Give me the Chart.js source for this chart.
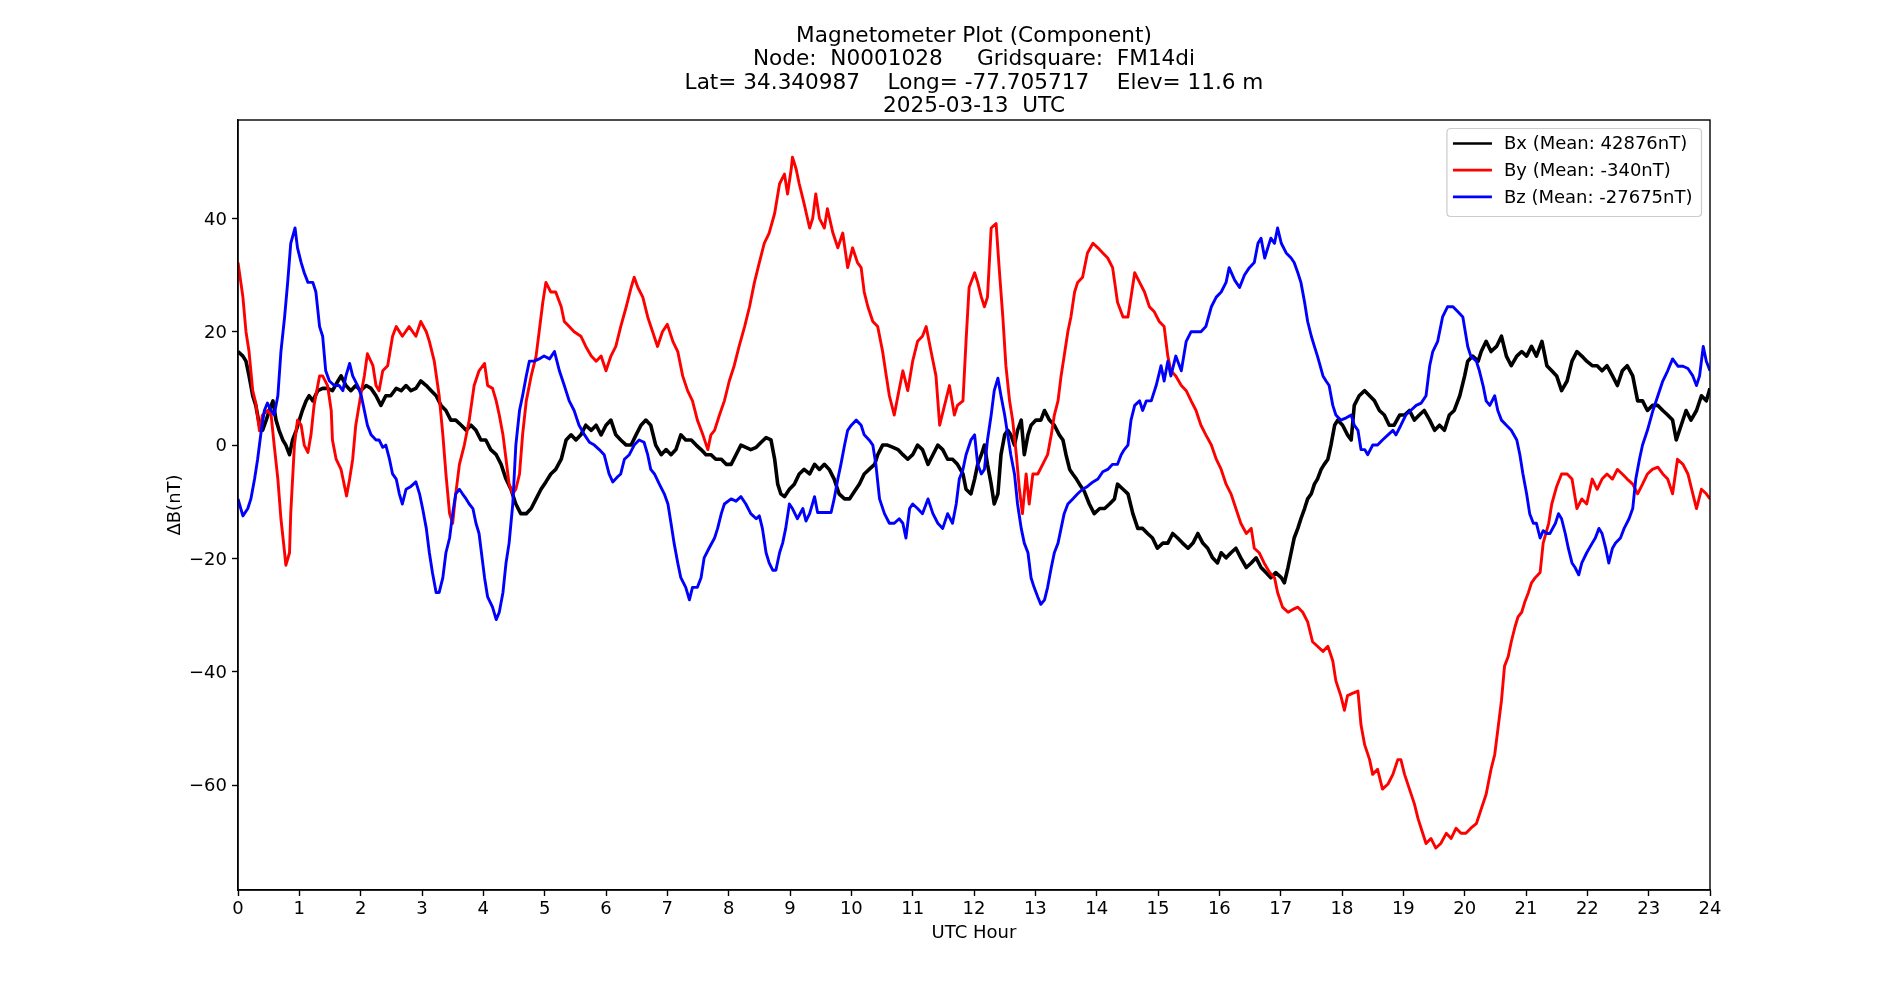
<!DOCTYPE html>
<html>
<head>
<meta charset="utf-8">
<title>Magnetometer Plot (Component)</title>
<script src="https://cdn.jsdelivr.net/npm/chart.js@4.4.1/dist/chart.umd.min.js"></script>
<style>
  html, body { margin: 0; padding: 0; background: #ffffff; }
  canvas { display: block; }
</style>
</head>
<body>
<canvas id="magChart" width="1900" height="1000"></canvas>
<script>
// text
var titleLines = [
  'Magnetometer Plot (Component)',
  'Node:  N0001028     Gridsquare:  FM14di',
  'Lat= 34.340987    Long= -77.705717    Elev= 11.6 m',
  '2025-03-13  UTC'
];
var seriesLabels = ['Bx (Mean: 42876nT)', 'By (Mean: -340nT)', 'Bz (Mean: -27675nT)'];
var seriesColors = ['#000000', '#ff0000', '#0000ff'];
var xTicks = [0, 1, 2, 3, 4, 5, 6, 7, 8, 9, 10, 11, 12, 13, 14, 15, 16, 17, 18, 19, 20, 21, 22, 23, 24];
var yTicks = [-60, -40, -20, 0, 20, 40];

// Bx, hours and deltas (nT)
var bxHour = [
  0, 0.08, 0.13, 0.18, 0.24, 0.29, 0.35, 0.40, 0.46, 0.51, 0.57, 0.62, 0.67, 0.73, 0.78, 0.84, 0.89, 0.95, 1.0, 1.05,
  1.11, 1.16, 1.22, 1.3, 1.38, 1.46, 1.54, 1.63, 1.68, 1.76, 1.84, 1.92, 2.0, 2.09, 2.17, 2.25, 2.33, 2.41, 2.49, 2.58,
  2.66, 2.74, 2.82, 2.9, 2.98, 3.07, 3.15, 3.23, 3.31, 3.39, 3.47, 3.55, 3.64, 3.72, 3.8, 3.88, 3.96,
  4.04, 4.12, 4.21, 4.29, 4.37, 4.45, 4.53, 4.61, 4.7, 4.78, 4.86, 4.94, 5.02, 5.1, 5.18, 5.27, 5.35, 5.43, 5.51, 5.59,
  5.67, 5.76, 5.84, 5.92, 6.0, 6.08, 6.16, 6.24, 6.33, 6.41, 6.49, 6.57, 6.65, 6.73, 6.81, 6.9, 6.98, 7.06, 7.14, 7.22,
  7.3, 7.39, 7.47, 7.55, 7.63, 7.71, 7.79, 7.88, 7.96,
  8.04, 8.12, 8.2, 8.28, 8.36, 8.45, 8.53, 8.61, 8.69, 8.75, 8.8, 8.85, 8.91, 8.99, 9.07, 9.15, 9.23, 9.32, 9.4, 9.48,
  9.56, 9.64, 9.72, 9.8, 9.89, 9.97, 10.05, 10.13, 10.21, 10.29, 10.38, 10.43, 10.51, 10.59, 10.68, 10.76, 10.84, 10.92, 11.0, 11.08,
  11.16, 11.25, 11.33, 11.41, 11.49, 11.57, 11.65, 11.73, 11.82, 11.87, 11.95,
  12.01, 12.06, 12.12, 12.17, 12.22, 12.28, 12.33, 12.39, 12.44, 12.5, 12.55, 12.6, 12.66, 12.71, 12.77, 12.82, 12.88, 12.93, 13.01, 13.09,
  13.15, 13.23, 13.31, 13.39, 13.45, 13.5, 13.56, 13.61, 13.67, 13.72, 13.8, 13.88, 13.96, 14.05, 14.13, 14.21, 14.29, 14.34, 14.43, 14.51,
  14.59, 14.67, 14.75, 14.83, 14.91, 14.99, 15.08, 15.16, 15.24, 15.32, 15.4, 15.49, 15.57, 15.65, 15.73, 15.81, 15.89, 15.97,
  16.03, 16.11, 16.19, 16.27, 16.35, 16.44, 16.52, 16.6, 16.68, 16.76, 16.84, 16.92, 17.01, 17.06, 17.12, 17.17, 17.22, 17.28, 17.33, 17.39,
  17.44, 17.5, 17.55, 17.6, 17.66, 17.71, 17.77, 17.82, 17.88, 17.93, 18.01, 18.09, 18.15, 18.2, 18.28, 18.37, 18.45, 18.53, 18.61, 18.69,
  18.77, 18.85, 18.94, 19.02, 19.1, 19.18, 19.26, 19.34, 19.43, 19.51, 19.59, 19.67, 19.75, 19.83, 19.92,
  20.0, 20.05, 20.13, 20.22, 20.27, 20.35, 20.43, 20.52, 20.6, 20.68, 20.76, 20.85, 20.93, 21.01, 21.09, 21.17, 21.26, 21.34, 21.42, 21.5,
  21.58, 21.67, 21.75, 21.83, 21.91, 21.99, 22.08, 22.16, 22.24, 22.32, 22.41, 22.49, 22.57, 22.65, 22.74, 22.82, 22.9, 22.98, 23.06, 23.15,
  23.23, 23.31, 23.39, 23.45, 23.53, 23.61, 23.69, 23.78, 23.86, 23.94, 24.0
];
var bxVal = [
  16.5, 15.7, 14.8, 12.2, 8.7, 7, 3.5, 2.6, 4.4, 6.1, 7.8, 4.4, 2.6, 0.9, 0, -1.7, 0.9, 2.6, 4.4, 6.1,
  7.8, 8.7, 7.8, 9.6, 10, 10, 9.6, 11.3, 12.2, 10.5, 9.6, 10.5, 9.6, 10.5, 10, 8.7, 7, 8.7, 8.7, 10,
  9.6, 10.5, 9.6, 10, 11.3, 10.5, 9.6, 8.7, 7, 6.1, 4.4, 4.4, 3.5, 2.6, 3.5, 2.6, 0.9,
  0.9, -0.8, -1.7, -3.4, -6, -7.8, -10.4, -12.1, -12.1, -11.2, -9.5, -7.8, -6.5, -5.1, -4.3, -2.5, 0.9, 1.8, 0.9, 1.8,
  3.5, 2.6, 3.5, 1.8, 3.5, 4.4, 1.8, 0.9, 0, 0, 1.8, 3.5, 4.4, 3.5, 0, -1.7, -0.8, -1.7, -0.8, 1.8,
  0.9, 0.9, 0, -0.8, -1.7, -1.7, -2.5, -2.5, -3.4,
  -3.4, -1.7, 0, -0.4, -0.8, -0.4, 0.5, 1.3, 0.9, -2.5, -6.9, -8.6, -9.1, -7.8, -6.9, -5.1, -4.3, -5.1, -3.4, -4.3,
  -3.4, -4.3, -6, -8.6, -9.5, -9.5, -8.2, -6.9, -5.1, -4.3, -3.4, -1.7, 0, 0, -0.4, -0.8, -1.7, -2.5, -1.7, 0,
  -0.8, -3.4, -1.7, 0, -0.8, -2.5, -2.5, -3.4, -5.1, -7.8, -8.6,
  -6, -3.4, -1.7, 0, -3.4, -6.9, -10.4, -8.6, -1.7, 1.8, 2.6, 1.8, 0, 2.6, 4.4, -1.7, 1.8, 3.5, 4.4, 4.4,
  6.1, 4.4, 3.5, 1.8, 0.9, -1.7, -4.3, -5.1, -6, -6.9, -8.2, -10.4, -12.1, -11.2, -11.2, -10.4, -9.5, -6.9, -7.8, -8.6,
  -12.1, -14.7, -14.7, -15.6, -16.4, -18.2, -17.3, -17.3, -15.6, -16.4, -17.3, -18.2, -17.3, -15.6, -17.3, -18.2, -19.9, -20.8,
  -19, -19.9, -19, -18.2, -19.9, -21.6, -20.8, -19.9, -21.6, -22.5, -23.4, -22.5, -23.4, -24.3, -21.6, -19, -16.4, -14.7, -13, -11.2,
  -9.5, -8.6, -6.9, -6, -4.3, -3.4, -2.5, 0, 3.5, 4.4, 3.5, 1.8, 0.9, 7, 8.7, 9.6, 8.7, 7.8, 6.1, 5.3,
  3.5, 3.5, 5.3, 5.3, 6.1, 4.4, 5.3, 6.1, 4.4, 2.6, 3.5, 2.6, 5.3, 6.1, 8.7,
  12.2, 14.8, 15.7, 14.8, 16.5, 18.3, 16.5, 17.4, 19.2, 15.7, 14, 15.7, 16.5, 15.7, 17.4, 15.7, 18.3, 14, 13.1, 12.2,
  9.6, 11.3, 14.8, 16.5, 15.7, 14.8, 14, 14, 13.1, 14, 12.2, 10.5, 13.1, 14, 12.2, 7.8, 7.8, 6.1, 7, 7,
  6.1, 5.3, 4.4, 0.9, 3.5, 6.1, 4.4, 6.1, 8.7, 7.8, 10
];

// By
var byHour = [
  0, 0.08, 0.13, 0.18, 0.24, 0.29, 0.35, 0.40, 0.48, 0.54, 0.59, 0.65, 0.70, 0.76, 0.78, 0.84, 0.86, 0.92, 0.97, 1.03,
  1.08, 1.14, 1.19, 1.24, 1.33, 1.38, 1.46, 1.52, 1.54, 1.6, 1.68, 1.73, 1.77, 1.82, 1.87, 1.92, 2.0, 2.06, 2.11, 2.2,
  2.25, 2.3, 2.36, 2.44, 2.52, 2.58, 2.68, 2.79, 2.9, 2.98, 3.07, 3.12, 3.2, 3.28, 3.34, 3.39, 3.45, 3.5, 3.55, 3.61,
  3.69, 3.77, 3.85, 3.93,
  4.02, 4.07, 4.15, 4.21, 4.26, 4.32, 4.37, 4.42, 4.48, 4.53, 4.59, 4.64, 4.7, 4.78, 4.86, 4.91, 4.97, 5.02, 5.1, 5.18,
  5.27, 5.32, 5.4, 5.48, 5.59, 5.67, 5.76, 5.84, 5.92, 6.0, 6.08, 6.16, 6.24, 6.33, 6.41, 6.46, 6.52, 6.6, 6.68, 6.76,
  6.84, 6.92, 7.0, 7.09, 7.17, 7.25, 7.33, 7.41, 7.49, 7.58, 7.66, 7.71, 7.77, 7.85, 7.93,
  8.01, 8.09, 8.17, 8.26, 8.34, 8.42, 8.5, 8.58, 8.66, 8.75, 8.83, 8.91, 8.96, 9.02, 9.04, 9.1, 9.15, 9.23, 9.32, 9.37,
  9.42, 9.48, 9.56, 9.61, 9.7, 9.78, 9.86, 9.94, 10.02, 10.1, 10.16, 10.21, 10.27, 10.35, 10.43, 10.51, 10.57, 10.62, 10.7, 10.76,
  10.84, 10.92, 11.0, 11.08, 11.16, 11.22, 11.3, 11.38, 11.44, 11.52, 11.6, 11.68, 11.73, 11.82, 11.87, 11.92,
  12.01, 12.06, 12.12, 12.17, 12.22, 12.28, 12.36, 12.41, 12.47, 12.52, 12.58, 12.63, 12.69, 12.74, 12.79, 12.85, 12.9, 12.96, 13.04, 13.12,
  13.2, 13.26, 13.31, 13.37, 13.42, 13.47, 13.53, 13.58, 13.64, 13.69, 13.77, 13.85, 13.94, 14.02, 14.1, 14.18, 14.26, 14.34, 14.43, 14.51,
  14.56, 14.62, 14.7, 14.78, 14.86, 14.94, 15.02, 15.1, 15.16, 15.21, 15.29, 15.38, 15.46, 15.54, 15.62, 15.7, 15.78, 15.87, 15.95,
  16.03, 16.11, 16.19, 16.27, 16.35, 16.44, 16.52, 16.57, 16.65, 16.73, 16.82, 16.9, 16.95, 17.03, 17.12, 17.2, 17.28, 17.36, 17.44, 17.52,
  17.6, 17.69, 17.77, 17.85, 17.9, 17.98, 18.04, 18.09, 18.17, 18.26, 18.31, 18.37, 18.45, 18.5, 18.58, 18.66, 18.75, 18.83, 18.91, 18.96,
  19.02, 19.1, 19.18, 19.24, 19.29, 19.37, 19.45, 19.53, 19.61, 19.7, 19.78, 19.86, 19.94,
  20.02, 20.1, 20.19, 20.27, 20.35, 20.43, 20.49, 20.54, 20.6, 20.65, 20.71, 20.76, 20.82, 20.87, 20.93, 20.98, 21.04, 21.09, 21.15, 21.23,
  21.28, 21.37, 21.42, 21.5, 21.58, 21.67, 21.75, 21.83, 21.91, 21.99, 22.08, 22.16, 22.24, 22.32, 22.41, 22.49, 22.57, 22.65, 22.74, 22.82,
  22.9, 22.98, 23.06, 23.15, 23.23, 23.31, 23.39, 23.47, 23.56, 23.64, 23.72, 23.78, 23.86, 23.94, 24.0
];
var byVal = [
  32.2, 26.1, 20, 16.5, 9.6, 7.4, 2.5, 5.3, 6.1, 5.3, 0, -6, -13, -19, -21.2, -19, -12, 0, 4.4, 3.5,
  0, -1.3, 1.8, 7, 12.2, 12.2, 10.5, 6.1, 0.9, -2.5, -4.3, -6.9, -9, -6, -2.5, 3.5, 8.7, 12.2, 16.1, 14,
  10.5, 9.6, 13.1, 14, 19.2, 20.9, 19.2, 20.9, 19.2, 21.8, 20, 18.3, 14.8, 8.7, 1.8, -5.1, -12.1, -13.8, -8.6, -3.4,
  0, 4.4, 10.5, 13.1,
  14.4, 10.5, 10, 7.8, 5.3, 1.8, -2.5, -6.9, -8.6, -7.8, -5.1, 1.8, 7.8, 12.2, 15.7, 20, 25.2, 28.7, 27, 27,
  24.4, 21.8, 20.9, 20, 19.2, 17.4, 15.7, 14.8, 15.7, 13.1, 15.7, 17.4, 20.9, 24.4, 27.8, 29.6, 27.8, 26.1, 22.6, 20,
  17.4, 20, 21.3, 18.3, 16.5, 12.2, 9.6, 7.8, 4.4, 1.8, -0.8, 1.8, 2.6, 5.3, 7.8,
  11.3, 14, 17.4, 20.9, 24.4, 28.7, 32.2, 35.6, 37.4, 40.9, 46.1, 47.8, 44.3, 48.7, 50.8, 48.7, 46.1, 42.6, 38.3, 40,
  44.3, 40, 38.3, 41.7, 37.4, 34.8, 37.4, 31.3, 34.8, 32.2, 31.3, 27, 24.4, 21.8, 20.9, 16.5, 12.2, 8.7, 5.3, 8.7,
  13.1, 9.6, 14.8, 18.3, 19.2, 20.9, 16.5, 12.2, 3.5, 7, 10.5, 5.3, 7, 7.8, 18.3, 27.8,
  30.4, 28.7, 26.1, 24.4, 26.1, 38.3, 39.1, 31.3, 22.6, 14, 7.8, 4.4, -1.7, -7.8, -12.1, -5.1, -10.4, -5.1, -5.1, -3.4,
  -1.7, 1.8, 5.3, 7.8, 12.2, 15.7, 20, 22.6, 27, 28.7, 29.6, 33.9, 35.6, 34.8, 33.9, 33, 31.3, 25.2, 22.6, 22.6,
  26.1, 30.4, 28.7, 27, 24.4, 23.5, 21.8, 20.9, 15.7, 13.1, 12.2, 10.5, 9.6, 7.8, 6.1, 3.5, 1.8, 0, -2.5,
  -4.3, -6.9, -8.6, -11.2, -13.8, -15.6, -14.7, -18.2, -19, -20.8, -22.5, -23.4, -26, -28.6, -29.5, -29, -28.6, -29.5, -31.2, -34.7,
  -35.5, -36.4, -35.5, -38.1, -41.6, -44.2, -46.8, -44.2, -43.8, -43.4, -49.4, -52.9, -55.5, -58.1, -57.2, -60.7, -59.8, -58.1, -55.5, -55.5,
  -58.1, -60.7, -63.3, -65.9, -67.6, -70.3, -69.4, -71.1, -70.3, -68.5, -69.4, -67.6, -68.5,
  -68.5, -67.6, -66.8, -64.2, -61.6, -57.2, -54.6, -50.3, -45.1, -39, -37.3, -34.7, -32.1, -30.3, -29.5, -27.7, -26, -24.3, -23.4, -22.5,
  -17.3, -13.8, -10.4, -7.3, -5.1, -5.1, -6, -11.2, -9.5, -10.4, -6, -7.8, -6, -5.1, -6, -4.3, -5.1, -6, -6.9, -8.6,
  -6.9, -5.1, -4.3, -3.9, -5.1, -6, -8.6, -2.5, -3.4, -5.1, -8.6, -11.2, -7.8, -8.6, -9.5
];

// Bz
var bzHour = [
  0, 0.08, 0.16, 0.21, 0.27, 0.32, 0.38, 0.43, 0.48, 0.54, 0.59, 0.65, 0.70, 0.76, 0.81, 0.86, 0.93, 0.97, 1.03, 1.08,
  1.14, 1.22, 1.27, 1.33, 1.38, 1.43, 1.49, 1.57, 1.65, 1.71, 1.76, 1.82, 1.87, 1.95, 2.01, 2.06, 2.11, 2.17, 2.25, 2.3,
  2.36, 2.41, 2.47, 2.52, 2.58, 2.63, 2.68, 2.74, 2.82, 2.9, 2.96, 3.01, 3.07, 3.12, 3.17, 3.23, 3.28, 3.34, 3.39, 3.45,
  3.5, 3.55, 3.61, 3.66, 3.72, 3.77, 3.83, 3.88, 3.93,
  4.02, 4.07, 4.15, 4.21, 4.26, 4.32, 4.37, 4.42, 4.48, 4.53, 4.59, 4.64, 4.7, 4.75, 4.83, 4.91, 4.99, 5.08, 5.16, 5.24,
  5.32, 5.4, 5.48, 5.56, 5.65, 5.73, 5.81, 5.89, 5.97, 6.05, 6.11, 6.19, 6.24, 6.3, 6.38, 6.46, 6.54, 6.62, 6.68, 6.73,
  6.79, 6.87, 6.95, 7.01, 7.06, 7.11, 7.17, 7.22, 7.3, 7.36, 7.41, 7.49, 7.55, 7.6, 7.68, 7.77, 7.82, 7.88, 7.93,
  8.04, 8.12, 8.2, 8.28, 8.36, 8.45, 8.5, 8.55, 8.61, 8.66, 8.72, 8.77, 8.83, 8.88, 8.93, 8.99, 9.04, 9.12, 9.21, 9.26,
  9.32, 9.4, 9.45, 9.53, 9.61, 9.67, 9.72, 9.78, 9.83, 9.89, 9.94, 10.0, 10.08, 10.16, 10.21, 10.29, 10.35, 10.4, 10.46, 10.54,
  10.62, 10.7, 10.78, 10.84, 10.89, 10.95, 11.0, 11.08, 11.16, 11.25, 11.33, 11.41, 11.49, 11.57, 11.65, 11.71, 11.76, 11.82, 11.87, 11.95,
  12.01, 12.06, 12.12, 12.17, 12.22, 12.28, 12.33, 12.39, 12.44, 12.5, 12.55, 12.6, 12.66, 12.71, 12.77, 12.82, 12.88, 12.93, 12.98, 13.04,
  13.09, 13.15, 13.2, 13.26, 13.31, 13.37, 13.42, 13.47, 13.53, 13.61, 13.69, 13.77, 13.85, 13.94, 14.02, 14.1, 14.18, 14.26, 14.34, 14.4,
  14.45, 14.51, 14.56, 14.62, 14.7, 14.75, 14.81, 14.89, 14.97, 15.05, 15.1, 15.16, 15.21, 15.29, 15.38, 15.46, 15.54, 15.62, 15.7, 15.78,
  15.87, 15.95,
  16.03, 16.11, 16.16, 16.25, 16.33, 16.41, 16.49, 16.57, 16.63, 16.68, 16.74, 16.79, 16.84, 16.9, 16.95, 17.01, 17.09, 17.17, 17.22, 17.28,
  17.33, 17.39, 17.44, 17.5, 17.55, 17.6, 17.69, 17.74, 17.79, 17.85, 17.9, 17.98, 18.07, 18.15, 18.2, 18.26, 18.31, 18.37, 18.42, 18.5,
  18.58, 18.66, 18.75, 18.83, 18.88, 18.96, 19.04, 19.12, 19.21, 19.29, 19.37, 19.43, 19.48, 19.56, 19.64, 19.72, 19.81, 19.89, 19.97,
  20.05, 20.1, 20.19, 20.24, 20.3, 20.35, 20.41, 20.49, 20.54, 20.6, 20.68, 20.76, 20.85, 20.9, 20.95, 21.01, 21.06, 21.12, 21.17, 21.23,
  21.28, 21.34, 21.39, 21.48, 21.53, 21.58, 21.64, 21.69, 21.75, 21.8, 21.86, 21.91, 21.99, 22.08, 22.13, 22.19, 22.24, 22.3, 22.35, 22.41,
  22.46, 22.54, 22.6, 22.68, 22.74, 22.79, 22.85, 22.9, 22.98, 23.07, 23.15, 23.23, 23.31, 23.39, 23.48, 23.56, 23.64, 23.72, 23.78, 23.83,
  23.89, 23.94, 24.0
];
var bzVal = [
  -9.5, -12.5, -11.2, -9.5, -6, -2.5, 2.6, 6.1, 7.4, 6.1, 5.3, 8.7, 16.5, 22.6, 28.7, 35.6, 38.3, 34.8, 32.2, 30.4,
  28.7, 28.7, 27, 20.9, 19.2, 13.1, 11.3, 10.5, 10.5, 9.6, 12.2, 14.4, 12.2, 10.5, 8.7, 6.1, 3.5, 1.8, 0.9, 0.9,
  -0.4, 0, -2.5, -5.1, -6, -8.6, -10.4, -7.8, -7.3, -6.5, -8.6, -11.2, -14.7, -19, -22.5, -26, -26, -23.4, -19, -16.4,
  -12.1, -8.6, -7.8, -8.6, -9.5, -10.4, -11.2, -13.8, -15.6,
  -23.4, -26.8, -28.6, -30.8, -29.5, -26, -20.8, -17.3, -10.4, 0, 6.1, 8.7, 12.2, 14.8, 14.8, 15.2, 15.7, 15.2, 16.5, 13.1,
  10.5, 7.8, 6.1, 3.5, 1.8, 0.5, 0, -0.8, -1.7, -5.1, -6.5, -5.6, -5.1, -2.5, -1.7, 0, 0.9, 0.5, -1.7, -4.3,
  -5.1, -6.9, -8.6, -10.4, -13.8, -17.3, -20.8, -23.4, -25.1, -27.3, -25.1, -25.1, -23.4, -19.9, -18.2, -16.4, -14.7, -12.1, -10.4,
  -9.5, -9.9, -9.1, -10.4, -12.1, -13, -12.5, -14.7, -19, -20.8, -22.1, -22.1, -19, -17.3, -14.7, -10.4, -11.2, -13, -11.2, -13.4,
  -12.1, -9.1, -11.9, -11.9, -11.9, -11.9, -9.5, -6, -3.4, 0, 2.6, 3.5, 4.4, 3.5, 1.8, 0.9, 0, -3.4, -9.5, -12.1,
  -13.8, -13.8, -13, -13.8, -16.4, -11.2, -10.4, -11.2, -12.1, -9.5, -12.1, -13.8, -14.7, -12.1, -13.8, -10.4, -6, -4.3, -1.7, 0.9,
  1.8, -3.4, -5.1, -4.3, 0.9, 5.3, 9.6, 11.8, 8.7, 5.3, 1.8, -1.7, -5.1, -10.4, -14.7, -17.3, -19, -23.4, -25.1, -26.8,
  -28.1, -27.3, -25.1, -21.6, -19, -17.3, -14.7, -12.1, -10.4, -9.5, -8.6, -7.8, -7.3, -6.5, -6, -4.7, -4.3, -3.4, -3.4, -1.7,
  -0.8, 0, 4.4, 7, 7.8, 6.1, 7.8, 7.8, 10.5, 14, 11.3, 14.8, 12.2, 15.7, 13.1, 18.3, 20, 20, 20, 20.9,
  24.4, 26.1,
  27, 28.7, 31.3, 29.1, 27.8, 30, 31.3, 32.2, 35.6, 36.5, 33, 34.8, 36.5, 35.6, 38.3, 35.6, 33.9, 33, 32.2, 30.4,
  28.7, 25.2, 21.8, 19.2, 17.4, 15.7, 12.2, 11.3, 10.5, 7, 5.3, 4.4, 4.8, 5.3, 3.5, 2.6, -0.8, -0.8, -1.7, 0,
  0, 0.9, 1.8, 2.6, 1.8, 3.5, 5.3, 6.1, 7, 7.4, 8.7, 14, 16.5, 18.3, 22.6, 24.4, 24.4, 23.5, 22.6,
  17.4, 15.7, 14.8, 13.1, 10.5, 7.8, 7, 8.7, 6.1, 4.4, 3.5, 2.6, 0.9, -1.7, -5.1, -8.6, -12.1, -13.8, -13.8, -16.4,
  -15.1, -15.6, -15.6, -13.8, -12.1, -13, -15.6, -18.2, -20.8, -21.6, -22.9, -20.8, -19, -17.3, -16.4, -14.7, -15.6, -18.2, -20.8, -18.2,
  -17.3, -16.4, -14.7, -13, -11.2, -6, -2.5, 0, 2.6, 6.1, 8.7, 11.3, 13.1, 15.2, 13.9, 13.9, 13.5, 12.2, 10.5, 12.2,
  17.4, 14.8, 13.1
];

var FONT = 'DejaVu Sans';
var BASE = 18;

function toPoints(hours, vals) {
  var pts = [];
  var n = Math.min(hours.length, vals.length);
  for (var i = 0; i < n; i++) pts.push({x: hours[i], y: vals[i]});
  return pts;
}

function mplMinus(v) {
  return String(v).replace('-', '\u2212');
}

// frame around the axes, like matplotlib's spines
var framePlugin = {
  id: 'axesFrame',
  afterDatasetsDraw: function(chart) {
    var a = chart.chartArea, ctx = chart.ctx;
    ctx.save();
    ctx.strokeStyle = '#000';
    ctx.lineWidth = 1.4;
    ctx.strokeRect(a.left, a.top, a.right - a.left, a.bottom - a.top);
    ctx.restore();
  }
};

// four line title above the axes
var titlePlugin = {
  id: 'multiTitle',
  afterDraw: function(chart) {
    var a = chart.chartArea, ctx = chart.ctx;
    var cx = (a.left + a.right) / 2;
    ctx.save();
    ctx.fillStyle = '#000';
    ctx.font = '21.6px "' + FONT + '"';
    ctx.textAlign = 'center';
    ctx.textBaseline = 'alphabetic';
    for (var i = 0; i < titleLines.length; i++) {
      ctx.fillText(titleLines[i], cx, 42.3 + i * 23.1);
    }
    ctx.restore();
  }
};

// legend box in the upper right corner of the axes
var legendPlugin = {
  id: 'boxLegend',
  afterDraw: function(chart) {
    var a = chart.chartArea, ctx = chart.ctx;
    var sets = chart.data.datasets;
    ctx.save();
    ctx.font = BASE + 'px "' + FONT + '"';
    var textW = 0;
    sets.forEach(function(d) { textW = Math.max(textW, ctx.measureText(d.label).width); });
    var padL = 6, handle = 39, gap = 12, padR = 9, rowH = 26.7;
    var w = padL + handle + gap + textW + padR;
    var h = 88;
    var x = a.right - 8.5 - w, y = a.top + 8.5;
    var r = 4;
    ctx.beginPath();
    ctx.moveTo(x + r, y);
    ctx.lineTo(x + w - r, y);
    ctx.quadraticCurveTo(x + w, y, x + w, y + r);
    ctx.lineTo(x + w, y + h - r);
    ctx.quadraticCurveTo(x + w, y + h, x + w - r, y + h);
    ctx.lineTo(x + r, y + h);
    ctx.quadraticCurveTo(x, y + h, x, y + h - r);
    ctx.lineTo(x, y + r);
    ctx.quadraticCurveTo(x, y, x + r, y);
    ctx.closePath();
    ctx.fillStyle = 'rgba(255,255,255,0.8)';
    ctx.fill();
    ctx.strokeStyle = '#cccccc';
    ctx.lineWidth = 1.2;
    ctx.stroke();
    ctx.textAlign = 'left';
    ctx.textBaseline = 'middle';
    sets.forEach(function(d, i) {
      var cy = y + 15 + i * rowH;
      ctx.strokeStyle = d.borderColor;
      ctx.lineWidth = 2.7;
      ctx.beginPath();
      ctx.moveTo(x + padL, cy);
      ctx.lineTo(x + padL + handle, cy);
      ctx.stroke();
      ctx.fillStyle = '#000';
      ctx.fillText(d.label, x + padL + handle + gap, cy + 1);
    });
    ctx.restore();
  }
};

Chart.defaults.font.family = FONT;
Chart.defaults.font.size = BASE;
Chart.defaults.color = '#000';

var ctx = document.getElementById('magChart').getContext('2d');
var magChart = new Chart(ctx, {
  type: 'line',
  data: {
    datasets: [
      { label: seriesLabels[0], data: toPoints(bxHour, bxVal), borderColor: seriesColors[0], borderWidth: 3.6, order: 2 },
      { label: seriesLabels[1], data: toPoints(byHour, byVal), borderColor: seriesColors[1], borderWidth: 2.9, order: 1 },
      { label: seriesLabels[2], data: toPoints(bzHour, bzVal), borderColor: seriesColors[2], borderWidth: 2.9, order: 0 }
    ]
  },
  options: {
    responsive: false,
    animation: false,
    devicePixelRatio: 1,
    events: [],
    layout: { padding: { top: 120, right: 190, bottom: 40, left: 150 } },
    elements: {
      point: { radius: 0 },
      line: { tension: 0, fill: false, borderJoinStyle: 'round', borderCapStyle: 'butt' }
    },
    plugins: {
      legend: { display: false },
      tooltip: { enabled: false },
      title: { display: false }
    },
    scales: {
      x: {
        type: 'linear',
        min: 0,
        max: 24,
        afterBuildTicks: function(scale) {
          scale.ticks = xTicks.map(function(v) { return {value: v}; });
        },
        afterFit: function(scale) { scale.height = 70; },
        ticks: {
          autoSkip: false,
          maxRotation: 0,
          padding: 3,
          color: '#000',
          font: { family: FONT, size: BASE },
          callback: function(v) { return mplMinus(v); }
        },
        grid: { drawOnChartArea: false, drawTicks: true, tickLength: 6, tickColor: '#000', tickWidth: 1.4 },
        border: { display: true, color: '#000', width: 1.4 },
        title: {
          display: true,
          text: 'UTC Hour',
          color: '#000',
          font: { family: FONT, size: BASE },
          padding: { top: 0, bottom: 16.3 }
        }
      },
      y: {
        type: 'linear',
        min: -78.5,
        max: 57.35,
        afterBuildTicks: function(scale) {
          scale.ticks = yTicks.map(function(v) { return {value: v}; });
        },
        afterFit: function(scale) { scale.width = 88; },
        ticks: {
          padding: 5,
          labelOffset: 1.5,
          color: '#000',
          font: { family: FONT, size: BASE },
          callback: function(v) { return mplMinus(v); }
        },
        grid: { drawOnChartArea: false, drawTicks: true, tickLength: 6, tickColor: '#000', tickWidth: 1.4 },
        border: { display: true, color: '#000', width: 1.4 },
        title: {
          display: true,
          text: '\u0394B(nT)',
          color: '#000',
          font: { family: FONT, size: BASE },
          padding: { top: 14.7, bottom: 0 }
        }
      }
    }
  },
  plugins: [framePlugin, titlePlugin, legendPlugin]
});
</script>
</body>
</html>
